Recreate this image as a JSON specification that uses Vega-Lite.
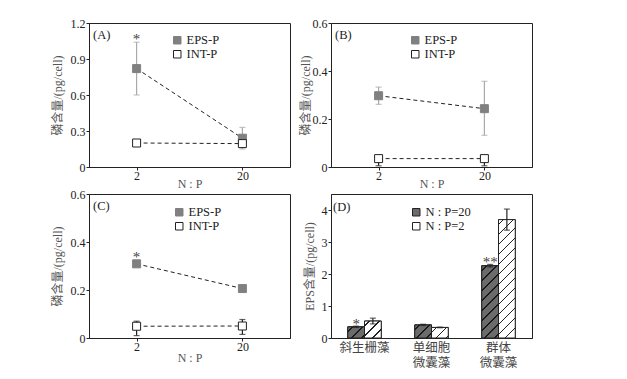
{
  "$schema": "https://vega.github.io/schema/vega-lite/v6.json",
  "padding": {"left": 50, "top": 16, "right": 5, "bottom": 5},
  "background": "white",
  "datasets": {
    "lines": [
      {"panel": "A", "NP": "2", "series": "EPS-P", "value": 0.82, "lo": 0.60, "hi": 1.04, "sig": "*"},
      {"panel": "A", "NP": "20", "series": "EPS-P", "value": 0.24, "lo": 0.15, "hi": 0.33},
      {"panel": "A", "NP": "2", "series": "INT-P", "value": 0.20, "lo": 0.19, "hi": 0.21},
      {"panel": "A", "NP": "20", "series": "INT-P", "value": 0.195, "lo": 0.165, "hi": 0.22},
      {"panel": "B", "NP": "2", "series": "EPS-P", "value": 0.297, "lo": 0.261, "hi": 0.333},
      {"panel": "B", "NP": "20", "series": "EPS-P", "value": 0.243, "lo": 0.132, "hi": 0.357},
      {"panel": "B", "NP": "2", "series": "INT-P", "value": 0.035, "lo": 0.005, "hi": 0.04},
      {"panel": "B", "NP": "20", "series": "INT-P", "value": 0.035, "lo": 0.005, "hi": 0.04},
      {"panel": "C", "NP": "2", "series": "EPS-P", "value": 0.309, "lo": 0.30, "hi": 0.325, "sig": "*"},
      {"panel": "C", "NP": "20", "series": "EPS-P", "value": 0.206, "lo": 0.20, "hi": 0.212},
      {"panel": "C", "NP": "2", "series": "INT-P", "value": 0.049, "lo": 0.01, "hi": 0.07},
      {"panel": "C", "NP": "20", "series": "INT-P", "value": 0.05, "lo": 0.015, "hi": 0.077}
    ],
    "bars": [
      {"species": "斜生栅藻", "group": "N : P=20", "value": 0.35, "lo": 0.33, "hi": 0.37, "sig": "*"},
      {"species": "斜生栅藻", "group": "N : P=2", "value": 0.53, "lo": 0.44, "hi": 0.62},
      {"species": "单细胞微囊藻", "group": "N : P=20", "value": 0.41, "lo": 0.39, "hi": 0.43},
      {"species": "单细胞微囊藻", "group": "N : P=2", "value": 0.33, "lo": 0.32, "hi": 0.34},
      {"species": "群体微囊藻", "group": "N : P=20", "value": 2.26, "lo": 2.22, "hi": 2.30, "sig": "**"},
      {"species": "群体微囊藻", "group": "N : P=2", "value": 3.70, "lo": 3.37, "hi": 4.03}
    ]
  },
  "columns": 2,
  "bounds": "flush",
  "spacing": {"row": 27, "column": 41},
  "resolve": {
    "scale": {"fill": "independent", "stroke": "independent", "color": "independent"},
    "legend": {"fill": "independent", "stroke": "independent", "color": "independent"}
  },
  "concat": [
    {
      "width": 201, "height": 144,
      "title": {"text": "(A)", "frame": "group", "anchor": "start", "offset": -24, "dx": 4},
      "data": {"name": "lines"},
      "transform": [{"filter": "datum.panel === 'A'"}],
      "encoding": {
        "x": {"field": "NP", "type": "ordinal", "sort": ["2", "20"], "scale": {"type": "point", "padding": 0.45}, "axis": {"title": "N : P", "labelAngle": 0, "labelPadding": 0, "titlePadding": -3}},
        "y": {"field": "value", "type": "quantitative", "scale": {"domain": [0, 1.2], "nice": false}, "axis": {"values": [0, 0.3, 0.6, 0.9, 1.2], "labelOverlap": false, "labelSeparation": 0, "title": "磷含量/(pg/cell)", "titlePadding": 6, "labelExpr": "datum.value === 0 ? '0' : format(datum.value, '.1f')"}}
      },
      "layer": [
        {"mark": {"type": "line", "strokeDash": [4, 3], "color": "#222", "strokeWidth": 1},
         "encoding": {"detail": {"field": "series"}}},
        {"mark": {"type": "rule", "strokeWidth": 1.2},
         "encoding": {"y": {"field": "lo", "type": "quantitative"}, "y2": {"field": "hi"}, "stroke": {"condition": {"test": "datum.series === 'EPS-P'", "value": "#aaaaaa"}, "value": "#222222"}}},
        {"mark": {"type": "tick", "size": 6, "thickness": 1.2},
         "encoding": {"y": {"field": "hi", "type": "quantitative"}, "color": {"condition": {"test": "datum.series === 'EPS-P'", "value": "#aaaaaa"}, "value": "#222222"}}},
        {"mark": {"type": "tick", "size": 6, "thickness": 1.2},
         "encoding": {"y": {"field": "lo", "type": "quantitative"}, "color": {"condition": {"test": "datum.series === 'EPS-P'", "value": "#aaaaaa"}, "value": "#222222"}}},
        {"mark": {"type": "point", "shape": "square", "size": 64, "filled": true, "opacity": 1, "strokeWidth": 1},
         "encoding": {
           "fill": {"field": "series", "type": "nominal", "scale": {"domain": ["EPS-P", "INT-P"], "range": ["#808080", "#ffffff"]}, "legend": {"orient": "none", "legendX": 82, "legendY": 11, "title": null}},
           "stroke": {"field": "series", "type": "nominal", "scale": {"domain": ["EPS-P", "INT-P"], "range": ["#808080", "#222222"]}, "legend": {"orient": "none", "legendX": 82, "legendY": 11, "title": null}}}},
        {"transform": [{"filter": "datum.sig"}],
         "mark": {"type": "text", "fontSize": 15, "dy": 2, "baseline": "alphabetic", "color": "#444", "fill": "#444"},
         "encoding": {"y": {"field": "hi", "type": "quantitative"}, "text": {"field": "sig"}}}
      ]
    },
    {
      "width": 201, "height": 144,
      "title": {"text": "(B)", "frame": "group", "anchor": "start", "offset": -24, "dx": 4},
      "data": {"name": "lines"},
      "transform": [{"filter": "datum.panel === 'B'"}],
      "encoding": {
        "x": {"field": "NP", "type": "ordinal", "sort": ["2", "20"], "scale": {"type": "point", "padding": 0.45}, "axis": {"title": "N : P", "labelAngle": 0, "labelPadding": 0, "titlePadding": -3}},
        "y": {"field": "value", "type": "quantitative", "scale": {"domain": [0, 0.6], "nice": false}, "axis": {"values": [0, 0.2, 0.4, 0.6], "labelOverlap": false, "labelSeparation": 0, "title": "磷含量/(pg/cell)", "titlePadding": 0, "labelExpr": "datum.value === 0 ? '0' : format(datum.value, '.1f')"}}
      },
      "layer": [
        {"mark": {"type": "line", "strokeDash": [4, 3], "color": "#222", "strokeWidth": 1},
         "encoding": {"detail": {"field": "series"}}},
        {"mark": {"type": "rule", "strokeWidth": 1.2},
         "encoding": {"y": {"field": "lo", "type": "quantitative"}, "y2": {"field": "hi"}, "stroke": {"condition": {"test": "datum.series === 'EPS-P'", "value": "#aaaaaa"}, "value": "#222222"}}},
        {"mark": {"type": "tick", "size": 6, "thickness": 1.2},
         "encoding": {"y": {"field": "hi", "type": "quantitative"}, "color": {"condition": {"test": "datum.series === 'EPS-P'", "value": "#aaaaaa"}, "value": "#222222"}}},
        {"mark": {"type": "tick", "size": 6, "thickness": 1.2},
         "encoding": {"y": {"field": "lo", "type": "quantitative"}, "color": {"condition": {"test": "datum.series === 'EPS-P'", "value": "#aaaaaa"}, "value": "#222222"}}},
        {"mark": {"type": "point", "shape": "square", "size": 64, "filled": true, "opacity": 1, "strokeWidth": 1},
         "encoding": {
           "fill": {"field": "series", "type": "nominal", "scale": {"domain": ["EPS-P", "INT-P"], "range": ["#808080", "#ffffff"]}, "legend": {"orient": "none", "legendX": 78, "legendY": 11, "title": null}},
           "stroke": {"field": "series", "type": "nominal", "scale": {"domain": ["EPS-P", "INT-P"], "range": ["#808080", "#222222"]}, "legend": {"orient": "none", "legendX": 78, "legendY": 11, "title": null}}}}
      ]
    },
    {
      "width": 201, "height": 144,
      "title": {"text": "(C)", "frame": "group", "anchor": "start", "offset": -24, "dx": 4},
      "data": {"name": "lines"},
      "transform": [{"filter": "datum.panel === 'C'"}],
      "encoding": {
        "x": {"field": "NP", "type": "ordinal", "sort": ["2", "20"], "scale": {"type": "point", "padding": 0.45}, "axis": {"title": "N : P", "labelAngle": 0, "labelPadding": 0, "titlePadding": 0}},
        "y": {"field": "value", "type": "quantitative", "scale": {"domain": [0, 0.6], "nice": false}, "axis": {"values": [0, 0.2, 0.4, 0.6], "labelOverlap": false, "labelSeparation": 0, "title": "磷含量/(pg/cell)", "titlePadding": 6, "labelExpr": "datum.value === 0 ? '0' : format(datum.value, '.1f')"}}
      },
      "layer": [
        {"mark": {"type": "line", "strokeDash": [4, 3], "color": "#222", "strokeWidth": 1},
         "encoding": {"detail": {"field": "series"}}},
        {"mark": {"type": "rule", "strokeWidth": 1.2},
         "encoding": {"y": {"field": "lo", "type": "quantitative"}, "y2": {"field": "hi"}, "stroke": {"condition": {"test": "datum.series === 'EPS-P'", "value": "#aaaaaa"}, "value": "#222222"}}},
        {"mark": {"type": "tick", "size": 6, "thickness": 1.2},
         "encoding": {"y": {"field": "hi", "type": "quantitative"}, "color": {"condition": {"test": "datum.series === 'EPS-P'", "value": "#aaaaaa"}, "value": "#222222"}}},
        {"mark": {"type": "tick", "size": 6, "thickness": 1.2},
         "encoding": {"y": {"field": "lo", "type": "quantitative"}, "color": {"condition": {"test": "datum.series === 'EPS-P'", "value": "#aaaaaa"}, "value": "#222222"}}},
        {"mark": {"type": "point", "shape": "square", "size": 64, "filled": true, "opacity": 1, "strokeWidth": 1},
         "encoding": {
           "fill": {"field": "series", "type": "nominal", "scale": {"domain": ["EPS-P", "INT-P"], "range": ["#808080", "#ffffff"]}, "legend": {"orient": "none", "legendX": 84, "legendY": 12, "title": null}},
           "stroke": {"field": "series", "type": "nominal", "scale": {"domain": ["EPS-P", "INT-P"], "range": ["#808080", "#222222"]}, "legend": {"orient": "none", "legendX": 84, "legendY": 12, "title": null}}}},
        {"transform": [{"filter": "datum.sig"}],
         "mark": {"type": "text", "fontSize": 15, "dy": 2, "baseline": "alphabetic", "color": "#444", "fill": "#444"},
         "encoding": {"y": {"field": "hi", "type": "quantitative"}, "text": {"field": "sig"}}}
      ]
    },
    {
      "width": 201, "height": 144,
      "title": {"text": "(D)", "frame": "group", "anchor": "start", "offset": -19, "dx": 2},
      "data": {"name": "bars"},
      "encoding": {
        "x": {"field": "species", "type": "nominal", "sort": ["斜生栅藻", "单细胞微囊藻", "群体微囊藻"], "scale": {"paddingInner": 0.5, "paddingOuter": 0.25},
              "axis": {"title": null, "labelAngle": 0, "ticks": false, "labelPadding": 3, "labelFont": "Liberation Serif, Noto Sans CJK SC", "labelFontSize": 12.5, "labelLineHeight": 15.5, "labelColor": "#444",
                       "labelExpr": "datum.value === '单细胞微囊藻' ? ['单细胞', '微囊藻'] : datum.value === '群体微囊藻' ? ['群体', '微囊藻'] : datum.value"}},
        "xOffset": {"field": "group", "type": "nominal", "sort": ["N : P=20", "N : P=2"], "scale": {"paddingInner": 0, "paddingOuter": 0}},
        "y": {"field": "value", "type": "quantitative", "scale": {"domain": [0, 4.5], "nice": false}, "axis": {"values": [0, 1, 2, 3, 4], "labelOverlap": false, "labelSeparation": 0, "title": "EPS含量/(pg/cell)", "titlePadding": 5}}
      },
      "layer": [
        {"mark": {"type": "bar", "stroke": "#222", "strokeWidth": 1},
         "encoding": {
           "fill": {"field": "group", "type": "nominal", "sort": ["N : P=20", "N : P=2"], "scale": {"domain": ["N : P=20", "N : P=2"], "range": ["#6b6b6b", "#ffffff"]}, "legend": {"orient": "none", "legendX": 79, "legendY": 12, "title": null, "symbolStrokeColor": "#222"}}}},
        {"transform": [{"filter": "datum.species === '斜生栅藻' && datum.group === 'N : P=20'"}],
         "mark": {"type": "bar", "stroke": "#222", "strokeWidth": 1, "fill": {"gradient": "linear", "x1": 0, "y1": 0, "x2": 1.153, "y2": 0.771, "stops": [
           {"offset": 0, "color": "#6b6b6b"}, {"offset": 0.150, "color": "#6b6b6b"}, {"offset": 0.150, "color": "#1a1a1a"}, {"offset": 0.208, "color": "#1a1a1a"}, {"offset": 0.208, "color": "#6b6b6b"},
           {"offset": 0.508, "color": "#6b6b6b"}, {"offset": 0.508, "color": "#1a1a1a"}, {"offset": 0.566, "color": "#1a1a1a"}, {"offset": 0.566, "color": "#6b6b6b"},
           {"offset": 0.865, "color": "#6b6b6b"}, {"offset": 0.865, "color": "#1a1a1a"}, {"offset": 0.923, "color": "#1a1a1a"}, {"offset": 0.923, "color": "#6b6b6b"}, {"offset": 1, "color": "#6b6b6b"}]}}},
        {"transform": [{"filter": "datum.species === '斜生栅藻' && datum.group === 'N : P=2'"}],
         "mark": {"type": "bar", "stroke": "#222", "strokeWidth": 1, "fill": {"gradient": "linear", "x1": 0, "y1": 0, "x2": 0.994, "y2": 1.006, "stops": [
           {"offset": 0, "color": "#ffffff"}, {"offset": 0.124, "color": "#ffffff"}, {"offset": 0.124, "color": "#222222"}, {"offset": 0.172, "color": "#222222"}, {"offset": 0.172, "color": "#ffffff"},
           {"offset": 0.421, "color": "#ffffff"}, {"offset": 0.421, "color": "#222222"}, {"offset": 0.469, "color": "#222222"}, {"offset": 0.469, "color": "#ffffff"},
           {"offset": 0.718, "color": "#ffffff"}, {"offset": 0.718, "color": "#222222"}, {"offset": 0.766, "color": "#222222"}, {"offset": 0.766, "color": "#ffffff"}, {"offset": 1, "color": "#ffffff"}]}}},
        {"transform": [{"filter": "datum.species === '单细胞微囊藻' && datum.group === 'N : P=20'"}],
         "mark": {"type": "bar", "stroke": "#222", "strokeWidth": 1, "fill": {"gradient": "linear", "x1": 0, "y1": 0, "x2": 1.105, "y2": 0.866, "stops": [
           {"offset": 0, "color": "#6b6b6b"}, {"offset": 0.140, "color": "#6b6b6b"}, {"offset": 0.140, "color": "#1a1a1a"}, {"offset": 0.194, "color": "#1a1a1a"}, {"offset": 0.194, "color": "#6b6b6b"},
           {"offset": 0.475, "color": "#6b6b6b"}, {"offset": 0.475, "color": "#1a1a1a"}, {"offset": 0.529, "color": "#1a1a1a"}, {"offset": 0.529, "color": "#6b6b6b"},
           {"offset": 0.810, "color": "#6b6b6b"}, {"offset": 0.810, "color": "#1a1a1a"}, {"offset": 0.864, "color": "#1a1a1a"}, {"offset": 0.864, "color": "#6b6b6b"}, {"offset": 1, "color": "#6b6b6b"}]}}},
        {"transform": [{"filter": "datum.species === '单细胞微囊藻' && datum.group === 'N : P=2'"}],
         "mark": {"type": "bar", "stroke": "#222", "strokeWidth": 1, "fill": {"gradient": "linear", "x1": 0, "y1": 0, "x2": 1.167, "y2": 0.736, "stops": [
           {"offset": 0, "color": "#ffffff"}, {"offset": 0.154, "color": "#ffffff"}, {"offset": 0.154, "color": "#222222"}, {"offset": 0.212, "color": "#222222"}, {"offset": 0.212, "color": "#ffffff"},
           {"offset": 0.520, "color": "#ffffff"}, {"offset": 0.520, "color": "#222222"}, {"offset": 0.578, "color": "#222222"}, {"offset": 0.578, "color": "#ffffff"},
           {"offset": 0.886, "color": "#ffffff"}, {"offset": 0.886, "color": "#222222"}, {"offset": 0.944, "color": "#222222"}, {"offset": 0.944, "color": "#ffffff"}, {"offset": 1, "color": "#ffffff"}]}}},
        {"transform": [{"filter": "datum.species === '群体微囊藻' && datum.group === 'N : P=20'"}],
         "mark": {"type": "bar", "stroke": "#222", "strokeWidth": 1, "fill": {"gradient": "linear", "x1": 0, "y1": 0, "x2": 0.2707, "y2": 1.1689, "stops": [
           {"offset": 0, "color": "#6b6b6b"},
           {"offset": 0.047, "color": "#6b6b6b"}, {"offset": 0.047, "color": "#1a1a1a"}, {"offset": 0.065, "color": "#1a1a1a"}, {"offset": 0.065, "color": "#6b6b6b"},
           {"offset": 0.159, "color": "#6b6b6b"}, {"offset": 0.159, "color": "#1a1a1a"}, {"offset": 0.177, "color": "#1a1a1a"}, {"offset": 0.177, "color": "#6b6b6b"},
           {"offset": 0.272, "color": "#6b6b6b"}, {"offset": 0.272, "color": "#1a1a1a"}, {"offset": 0.290, "color": "#1a1a1a"}, {"offset": 0.290, "color": "#6b6b6b"},
           {"offset": 0.384, "color": "#6b6b6b"}, {"offset": 0.384, "color": "#1a1a1a"}, {"offset": 0.402, "color": "#1a1a1a"}, {"offset": 0.402, "color": "#6b6b6b"},
           {"offset": 0.496, "color": "#6b6b6b"}, {"offset": 0.496, "color": "#1a1a1a"}, {"offset": 0.514, "color": "#1a1a1a"}, {"offset": 0.514, "color": "#6b6b6b"},
           {"offset": 0.609, "color": "#6b6b6b"}, {"offset": 0.609, "color": "#1a1a1a"}, {"offset": 0.627, "color": "#1a1a1a"}, {"offset": 0.627, "color": "#6b6b6b"},
           {"offset": 0.721, "color": "#6b6b6b"}, {"offset": 0.721, "color": "#1a1a1a"}, {"offset": 0.739, "color": "#1a1a1a"}, {"offset": 0.739, "color": "#6b6b6b"},
           {"offset": 0.833, "color": "#6b6b6b"}, {"offset": 0.833, "color": "#1a1a1a"}, {"offset": 0.851, "color": "#1a1a1a"}, {"offset": 0.851, "color": "#6b6b6b"},
           {"offset": 0.945, "color": "#6b6b6b"}, {"offset": 0.945, "color": "#1a1a1a"}, {"offset": 0.963, "color": "#1a1a1a"}, {"offset": 0.963, "color": "#6b6b6b"},
           {"offset": 1, "color": "#6b6b6b"}]}}},
        {"transform": [{"filter": "datum.species === '群体微囊藻' && datum.group === 'N : P=2'"}],
         "mark": {"type": "bar", "stroke": "#222", "strokeWidth": 1, "fill": {"gradient": "linear", "x1": 0, "y1": 0, "x2": 0.1583, "y2": 1.1191, "stops": [
           {"offset": 0, "color": "#ffffff"},
           {"offset": 0.031, "color": "#ffffff"}, {"offset": 0.031, "color": "#222222"}, {"offset": 0.043, "color": "#222222"}, {"offset": 0.043, "color": "#ffffff"},
           {"offset": 0.105, "color": "#ffffff"}, {"offset": 0.105, "color": "#222222"}, {"offset": 0.117, "color": "#222222"}, {"offset": 0.117, "color": "#ffffff"},
           {"offset": 0.179, "color": "#ffffff"}, {"offset": 0.179, "color": "#222222"}, {"offset": 0.191, "color": "#222222"}, {"offset": 0.191, "color": "#ffffff"},
           {"offset": 0.253, "color": "#ffffff"}, {"offset": 0.253, "color": "#222222"}, {"offset": 0.265, "color": "#222222"}, {"offset": 0.265, "color": "#ffffff"},
           {"offset": 0.327, "color": "#ffffff"}, {"offset": 0.327, "color": "#222222"}, {"offset": 0.339, "color": "#222222"}, {"offset": 0.339, "color": "#ffffff"},
           {"offset": 0.401, "color": "#ffffff"}, {"offset": 0.401, "color": "#222222"}, {"offset": 0.413, "color": "#222222"}, {"offset": 0.413, "color": "#ffffff"},
           {"offset": 0.475, "color": "#ffffff"}, {"offset": 0.475, "color": "#222222"}, {"offset": 0.487, "color": "#222222"}, {"offset": 0.487, "color": "#ffffff"},
           {"offset": 0.549, "color": "#ffffff"}, {"offset": 0.549, "color": "#222222"}, {"offset": 0.561, "color": "#222222"}, {"offset": 0.561, "color": "#ffffff"},
           {"offset": 0.623, "color": "#ffffff"}, {"offset": 0.623, "color": "#222222"}, {"offset": 0.635, "color": "#222222"}, {"offset": 0.635, "color": "#ffffff"},
           {"offset": 0.697, "color": "#ffffff"}, {"offset": 0.697, "color": "#222222"}, {"offset": 0.709, "color": "#222222"}, {"offset": 0.709, "color": "#ffffff"},
           {"offset": 0.771, "color": "#ffffff"}, {"offset": 0.771, "color": "#222222"}, {"offset": 0.783, "color": "#222222"}, {"offset": 0.783, "color": "#ffffff"},
           {"offset": 0.845, "color": "#ffffff"}, {"offset": 0.845, "color": "#222222"}, {"offset": 0.857, "color": "#222222"}, {"offset": 0.857, "color": "#ffffff"},
           {"offset": 0.919, "color": "#ffffff"}, {"offset": 0.919, "color": "#222222"}, {"offset": 0.931, "color": "#222222"}, {"offset": 0.931, "color": "#ffffff"},
           {"offset": 1, "color": "#ffffff"}]}}},
        {"mark": {"type": "rule", "strokeWidth": 1.2, "color": "#222"},
         "encoding": {"y": {"field": "lo", "type": "quantitative"}, "y2": {"field": "hi"}}},
        {"mark": {"type": "tick", "size": 6, "thickness": 1.2, "color": "#222"},
         "encoding": {"y": {"field": "hi", "type": "quantitative"}}},
        {"mark": {"type": "tick", "size": 6, "thickness": 1.2, "color": "#222"},
         "encoding": {"y": {"field": "lo", "type": "quantitative"}}},
        {"transform": [{"filter": "datum.sig"}],
         "mark": {"type": "text", "fontSize": 15, "dy": 3, "baseline": "alphabetic", "font": "Liberation Serif", "color": "#444", "fill": "#444"},
         "encoding": {"y": {"field": "hi", "type": "quantitative"}, "text": {"field": "sig"}}}
      ]
    }
  ],
  "config": {
    "font": "Liberation Serif",
    "view": {"stroke": "#222", "strokeWidth": 1},
    "axis": {"labelFont": "Liberation Serif, Noto Sans CJK SC", "labelFontSize": 12, "labelColor": "#222", "labelOverlap": false, "titleFont": "Liberation Serif, Noto Sans CJK SC", "titleFontSize": 12, "titleFontWeight": "normal", "titleColor": "#555", "domainColor": "#222", "tickColor": "#222", "tickSize": 3, "labelPadding": 1, "grid": false},
    "legend": {"labelFont": "Liberation Serif", "labelFontSize": 12.5, "labelColor": "#222", "symbolType": "square", "symbolSize": 56, "rowPadding": 1, "padding": 0, "labelOffset": 3, "symbolStrokeWidth": 1},
    "title": {"font": "Liberation Serif", "fontSize": 12.5, "fontWeight": "normal", "color": "#222"}
  }
}
